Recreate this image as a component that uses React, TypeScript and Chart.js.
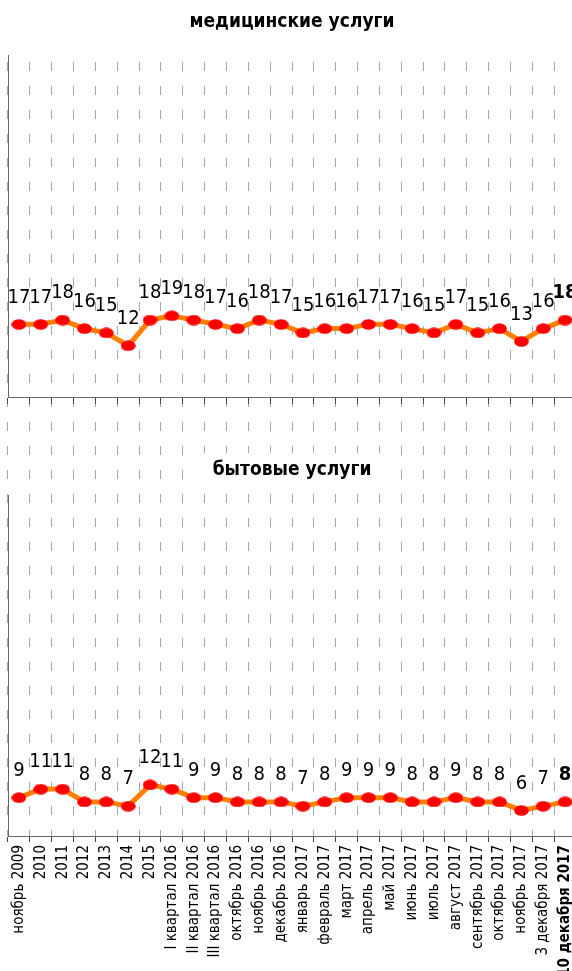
import React, { useEffect, useRef } from "react";
import { Chart, registerables } from "chart.js";

Chart.register(...registerables);

const categories = [
  "ноябрь 2009", "2010", "2011", "2012", "2013", "2014", "2015",
  "I квартал 2016", "II квартал 2016", "III квартал 2016",
  "октябрь 2016", "ноябрь 2016", "декабрь 2016",
  "январь 2017", "февраль 2017", "март 2017", "апрель 2017", "май 2017",
  "июнь 2017", "июль 2017", "август 2017", "сентябрь 2017", "октябрь 2017",
  "ноябрь 2017", "3 декабря 2017", "10 декабря 2017",
];
const medicalValues = [17, 17, 18, 16, 15, 12, 18, 19, 18, 17, 16, 18, 17, 15, 16, 16, 17, 17, 16, 15, 17, 15, 16, 13, 16, 18];
const householdValues = [9, 11, 11, 8, 8, 7, 12, 11, 9, 9, 8, 8, 8, 7, 8, 9, 9, 9, 8, 8, 9, 8, 8, 6, 7, 8];
const panelTitles = ["медицинские услуги", "бытовые услуги"];

const FONT = '"DejaVu Sans Condensed", "Liberation Sans Narrow", "DejaVu Sans", sans-serif';
const LINE_COLOR = "#FF7F00";
const POINT_COLOR = "#FF0000";
const W = 576;
const H = 971;

function makeEllipse(): HTMLCanvasElement {
  const c = document.createElement("canvas");
  c.width = 15;
  c.height = 11;
  const g = c.getContext("2d")!;
  g.fillStyle = POINT_COLOR;
  g.beginPath();
  g.ellipse(7.5, 5.5, 7.3, 5.3, 0, 0, Math.PI * 2);
  g.fill();
  return c;
}

const overlayPlugin = {
  id: "overlay",
  beforeDatasetsDraw(chart: any) {
    const ctx = chart.ctx;
    const area = chart.chartArea;
    const cx = (area.left + area.right) / 2;
    const yB = chart.scales.yB;
    ctx.save();
    ctx.font = `bold 19px ${FONT}`;
    const tw = ctx.measureText(panelTitles[1]).width;
    const ty = yB.top - 25;
    ctx.fillStyle = "#fff";
    ctx.fillRect(cx - tw / 2 - 16, ty - 17, tw + 32, 34);
    ctx.fillStyle = "#000";
    ctx.textAlign = "center";
    ctx.textBaseline = "middle";
    ctx.fillText(panelTitles[1], cx, ty);
    ctx.fillText(panelTitles[0], cx, 22);
    ctx.restore();
  },
  afterDatasetsDraw(chart: any) {
    const ctx = chart.ctx;
    chart.data.datasets.forEach((ds: any, di: number) => {
      const meta = chart.getDatasetMeta(di);
      meta.data.forEach((pt: any, i: number) => {
        ctx.save();
        ctx.font = `${i === ds.data.length - 1 ? "bold " : ""}20px ${FONT}`;
        ctx.fillStyle = "#000";
        ctx.textAlign = "center";
        ctx.textBaseline = "middle";
        ctx.fillText(String(ds.data[i]), pt.x, pt.y - 27);
        ctx.restore();
      });
    });
  },
};

export default function App() {
  const ref = useRef<HTMLCanvasElement | null>(null);
  useEffect(() => {
    if (!ref.current) return;
    const pointImg = makeEllipse();
    const last = categories.length - 1;
    const chart = new Chart(ref.current, {
      type: "line",
      data: {
        labels: categories,
        datasets: [
          {
            label: panelTitles[0],
            data: medicalValues,
            yAxisID: "yT",
            borderColor: LINE_COLOR,
            borderWidth: 5,
            pointStyle: pointImg as any,
            pointRadius: 7,
            pointBackgroundColor: POINT_COLOR,
            tension: 0,
            clip: false as any,
          },
          {
            label: panelTitles[1],
            data: householdValues,
            yAxisID: "yB",
            borderColor: LINE_COLOR,
            borderWidth: 5,
            pointStyle: pointImg as any,
            pointRadius: 7,
            pointBackgroundColor: POINT_COLOR,
            tension: 0,
            clip: false as any,
          },
        ],
      },
      options: {
        responsive: false,
        animation: false,
        layout: { autoPadding: false, padding: { left: 8, top: 55, right: 0, bottom: 0 } } as any,
        plugins: { legend: { display: false }, tooltip: { enabled: false }, title: { display: false } },
        scales: {
          x: {
            type: "category",
            position: "bottom",
            offset: true,
            grid: {
              display: true,
              offset: true,
              color: "#a8a8a8",
              lineWidth: 1,
              drawOnChartArea: true,
              drawTicks: true,
              tickLength: 6,
              tickColor: "#444444",
            },
            border: { display: true, color: "#666666", width: 1, dash: [9, 15], dashOffset: 17 },
            ticks: {
              autoSkip: false,
              maxRotation: 90,
              minRotation: 90,
              color: "#000",
              padding: 3,
              font: (c: any) => ({ family: FONT, size: 15, weight: c.index === last ? "bold" : "normal" }),
            },
            afterFit: (s: any) => {
              s.height = 135;
              s.paddingLeft = 0;
              s.paddingRight = 0;
            },
          } as any,
          xTop: {
            type: "category",
            position: { yT: 0 } as any,
            offset: true,
            min: 0,
            max: last,
            grid: {
              display: true,
              offset: true,
              drawOnChartArea: false,
              drawTicks: true,
              tickLength: 6,
              tickColor: "#444444",
            },
            border: { display: true, color: "#666666", width: 1 },
            ticks: { display: false },
            afterFit: (s: any) => {
              s.paddingLeft = 0;
              s.paddingRight = 0;
            },
          } as any,
          yB: {
            type: "linear",
            position: "left",
            stack: "panels",
            stackWeight: 341,
            min: 0,
            max: 80,
            ticks: { display: false },
            grid: { display: false, drawTicks: false },
            border: { display: true, color: "#666666", width: 1 },
          } as any,
          yGap: {
            type: "linear",
            position: "left",
            stack: "panels",
            stackWeight: 98,
            min: 0,
            max: 1,
            ticks: { display: false },
            grid: { display: false, drawTicks: false },
            border: { display: false },
          } as any,
          yT: {
            type: "linear",
            position: "left",
            stack: "panels",
            stackWeight: 342,
            min: 0,
            max: 80,
            ticks: { display: false },
            grid: { display: false, drawTicks: false },
            border: { display: true, color: "#666666", width: 1 },
          } as any,
        },
      },
      plugins: [overlayPlugin as any],
    });
    return () => chart.destroy();
  }, []);

  return (
    <div style={{ position: "absolute", left: 0, top: 0, width: 572, height: H, overflow: "hidden", background: "#fff" }}>
      <canvas ref={ref} width={W} height={H} style={{ width: W, height: H, display: "block" }} />
    </div>
  );
}
